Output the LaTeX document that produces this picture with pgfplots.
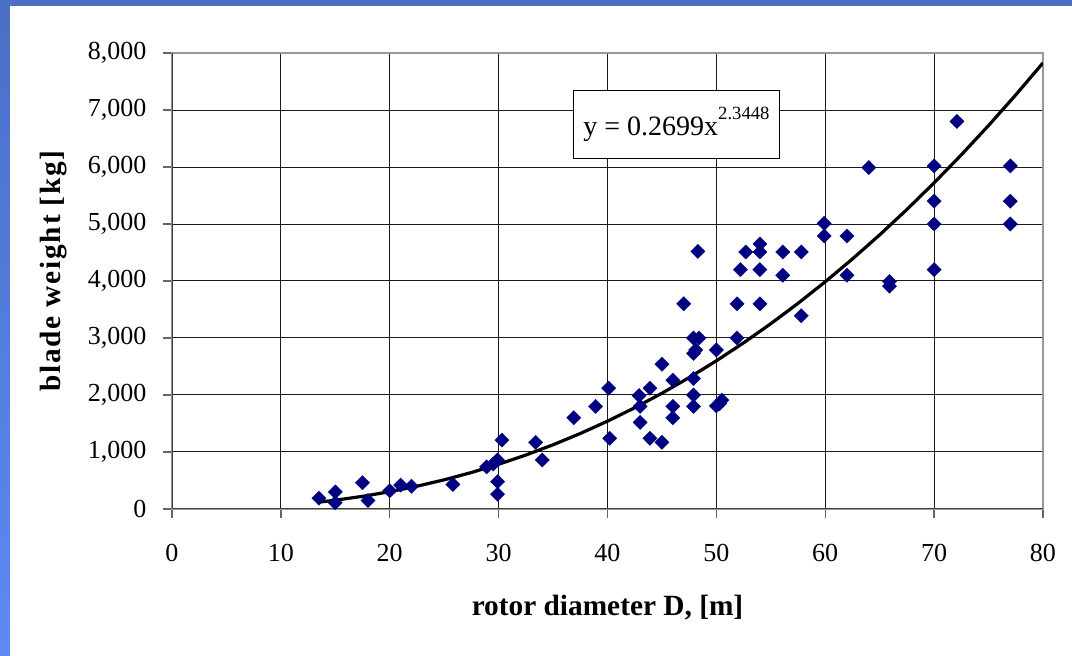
\documentclass[border=0pt]{standalone}
\usepackage{fontspec}
\setmainfont{Liberation Serif}
\newfontfamily\ylabfont[LetterSpace=6]{Liberation Serif}
\usepackage{pgfplots}
\pgfplotsset{compat=1.18}
\definecolor{navy}{HTML}{000080}
\definecolor{bandtop}{HTML}{4A6FC6}
\definecolor{bandbot}{HTML}{5C8AF4}
\begin{document}
\begin{tikzpicture}
\path[use as bounding box] (-129pt,-110.25pt) rectangle (675pt,381.75pt);
\fill[white] (-129pt,-110.25pt) rectangle (675pt,381.75pt);
\shade[top color=bandtop,bottom color=bandbot] (-129pt,-110.25pt) rectangle (-121.5pt,381.75pt);
\fill[bandtop] (-129pt,377pt) rectangle (675pt,381.75pt);
\begin{axis}[
  at={(0,0)}, anchor=south west,
  scale only axis, width=653.25pt, height=342pt,
  xmin=0, xmax=80, ymin=0, ymax=8000,
  xtick={0,10,...,80}, ytick={0,1000,...,8000},
  grid=major, major grid style={black!90, line width=0.75pt},
  tick pos=left, tick align=outside, major tick length=6.75pt,
  tick style={black!60, line width=1pt},
  axis line style={black!40, line width=1.5pt},
  ticklabel style={font=\fontsize{19.5}{20}\selectfont},
  /pgf/number format/1000 sep={,},
  /pgf/number format/assume math mode=true,
  xticklabel style={yshift=-16pt},
  yticklabel style={xshift=-9pt},
  xlabel={rotor diameter D, [m]},
  ylabel={blade weight [kg]},
  xlabel style={font=\fontsize{22}{24}\selectfont\bfseries,
    at={([yshift=-74pt]rel axis cs:0.5,0)}, anchor=center},
  ylabel style={font=\fontsize{22}{24}\selectfont\ylabfont\bfseries,
    at={([xshift=-88.5pt,yshift=7.5pt]rel axis cs:0,0.5)}, anchor=center},
]
\addplot[only marks, mark=square*, mark size=3.8pt,
  mark options={rotate=45, fill=navy, draw=navy, line width=0.2pt}]
coordinates {
(13.5,190) (15,300) (15,110) (17.5,460) (18,150) (20,320) (21,420) (22,400)
(25.8,430) (28.9,740) (29.5,790) (29.9,860) (30.3,1210) (29.9,480) (29.9,260)
(33.4,1170) (34,860) (36.9,1600) (38.9,1800) (40.1,2120) (40.2,1240)
(42.9,1990) (43,1800) (43.9,2120) (43,1520) (43.9,1240) (45,1170) (45,2540)
(46,2260) (46,1800) (46,1600) (47,3600) (47.9,3000) (48.4,3000) (47.9,2730)
(48.1,2790) (47.9,2290) (47.9,2000) (47.9,1800) (50,2790) (50,1810)
(50.5,1910) (50.3,1850) (51.9,3600) (51.9,3000) (48.3,4520) (52.7,4510)
(54,4650) (54,4510) (56.1,4510) (57.8,4510) (52.2,4200) (54,4200) (56.1,4100)
(59.9,5010) (59.9,4790) (54,3600) (57.8,3390) (72.1,6800) (64,5990)
(70,6020) (77,6020) (70,5400) (77,5400) (70,5000) (77,5000) (70,4200)
(62,4790) (62,4100) (65.9,3990) (65.9,3910)
};
\addplot[black, line width=2.4pt] coordinates {
(13.5,120.6) (15,154.5) (17.5,221.8) (20,303.3) (22.5,399.8) (25,511.8)
(27.5,640.0) (30,784.8) (32.5,946.8) (35,1126.5) (37.5,1324.4) (40,1540.7)
(42.5,1776.0) (45,2030.8) (47.5,2305.4) (50,2599.8) (52.5,2915.0)
(55,3251.0) (57.5,3608.0) (60,3986.5) (62.5,4387.3) (65,4809.6)
(67.5,5255) (70,5722.7) (72.5,6213.6) (75,6727.8) (77.5,7265.6) (80,7826.8)
};
\draw[black!75, line width=1.5pt] (rel axis cs:0,1) -- (rel axis cs:0,0) -- (rel axis cs:1,0);
\node[draw=black, line width=0.75pt, fill=white, anchor=north west,
  minimum width=155pt, minimum height=51pt, inner sep=0pt,
  font=\fontsize{21}{22}\selectfont]
  at (axis cs:36.8,7351) {\raisebox{-3pt}{y = 0.2699x}\raisebox{0.45em}{\fontsize{14}{14}\selectfont 2.3448}};
\end{axis}
\end{tikzpicture}
\end{document}
